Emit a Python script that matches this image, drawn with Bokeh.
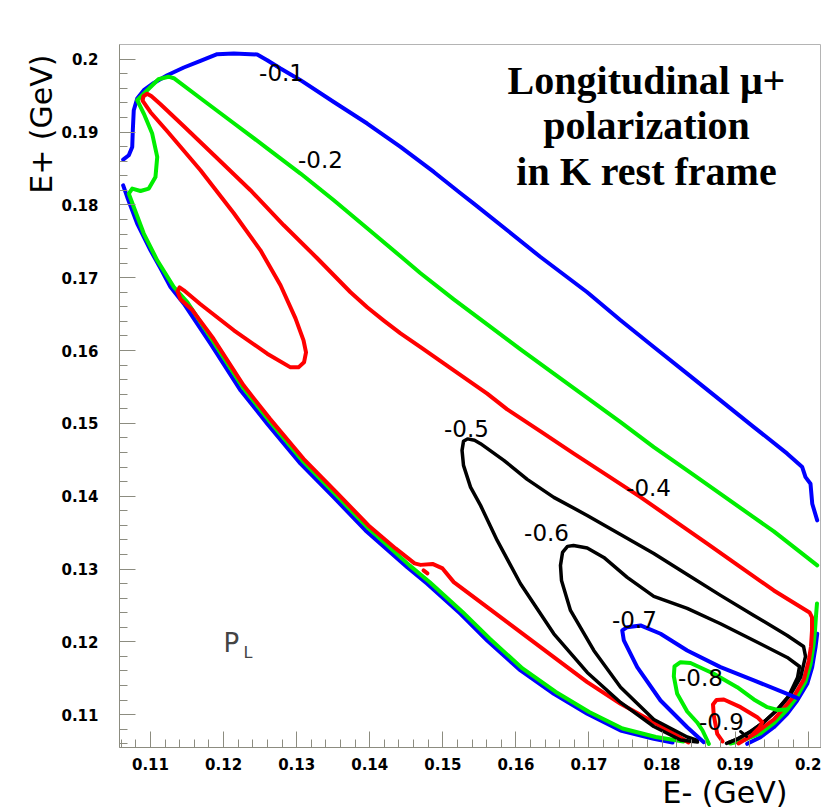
from bokeh.plotting import figure
from bokeh.models import Range1d, FixedTicker, Label, ColumnDataSource, Title
from bokeh.embed import file_html
from bokeh.resources import INLINE
from bokeh.core.properties import value

# ---------------- data (E- , E+ in GeV) ----------------
# P_L = -0.1 (blue): upper arc
m01_up_x = [0.10626, 0.10703, 0.10750, 0.10758, 0.10771, 0.10818, 0.10908, 0.11045, 0.11229, 0.11456,
            0.11684, 0.11913, 0.12140, 0.12460, 0.12597, 0.12779, 0.13053, 0.13508, 0.13965, 0.14421,
            0.14877, 0.15242, 0.15424, 0.15881, 0.16337, 0.16976, 0.17432, 0.17887, 0.18344, 0.18800,
            0.19256, 0.19713, 0.19918, 0.19963, 0.20031, 0.20055, 0.20123]
m01_up_y = [0.18622, 0.18681, 0.18795, 0.19025, 0.19299, 0.19460, 0.19574, 0.19674, 0.19780, 0.19886,
            0.19977, 0.20069, 0.20078, 0.20065, 0.19986, 0.19872, 0.19712, 0.19413, 0.19117, 0.18795,
            0.18452, 0.18159, 0.18018, 0.17651, 0.17284, 0.16800, 0.16415, 0.16048, 0.15683, 0.15316,
            0.14949, 0.14584, 0.14400, 0.14262, 0.14172, 0.13897, 0.13668]
# P_L = -0.1 (blue): lower-left edge
m01_lo_x = [0.10626, 0.10681, 0.10818, 0.11000, 0.11137, 0.11274, 0.11456, 0.11821, 0.12232, 0.12597,
            0.13053, 0.13508, 0.13942, 0.14513, 0.14786, 0.15242, 0.15607, 0.16063, 0.16519, 0.16976,
            0.17432, 0.17887, 0.18143]
m01_lo_y = [0.18269, 0.18109, 0.17743, 0.17376, 0.17129, 0.16872, 0.16644, 0.16095, 0.15453, 0.14996,
            0.14446, 0.13984, 0.13530, 0.13026, 0.12798, 0.12386, 0.12019, 0.11607, 0.11287, 0.11012,
            0.10783, 0.10669, 0.10618]
# P_L = -0.1 (blue): lower-right edge
m01_rt_x = [0.19165, 0.19347, 0.19529, 0.19712, 0.19849, 0.19986, 0.20054, 0.20100, 0.20123]
m01_rt_y = [0.10600, 0.10691, 0.10828, 0.11012, 0.11195, 0.11424, 0.11653, 0.11927, 0.12111]

# P_L = -0.2 (green): main contour
m02_x = [0.20123, 0.19529, 0.19256, 0.18800, 0.18344, 0.17887, 0.17432, 0.16976, 0.16519, 0.16063,
         0.15607, 0.15150, 0.14695, 0.14421, 0.13965, 0.13508, 0.13053, 0.12597, 0.12140, 0.11684,
         0.11319, 0.11246, 0.11109, 0.10955, 0.10818, 0.10908, 0.11023, 0.11092, 0.11068, 0.10977,
         0.10863, 0.10750, 0.10703, 0.10771, 0.10908, 0.11092, 0.11319, 0.11506, 0.11862, 0.12273,
         0.12635, 0.13094, 0.13545, 0.13983, 0.14544, 0.14818, 0.15269, 0.15639, 0.16090, 0.16546,
         0.17003, 0.17459, 0.17915, 0.18294]
m02_y = [0.13050, 0.13517, 0.13709, 0.14032, 0.14354, 0.14675, 0.15018, 0.15350, 0.15683, 0.16017,
         0.16360, 0.16703, 0.17061, 0.17294, 0.17679, 0.18063, 0.18430, 0.18777, 0.19121, 0.19464,
         0.19739, 0.19760, 0.19725, 0.19574, 0.19437, 0.19254, 0.18979, 0.18658, 0.18383, 0.18224,
         0.18191, 0.18224, 0.18155, 0.17971, 0.17606, 0.17239, 0.16872, 0.16662, 0.16120, 0.15481,
         0.15021, 0.14471, 0.14011, 0.13558, 0.13050, 0.12823, 0.12411, 0.12047, 0.11635, 0.11312,
         0.11037, 0.10811, 0.10694, 0.10632]
# P_L = -0.2 (green): lower-right edge
m02_rt_x = [0.18937, 0.19142, 0.19347, 0.19525, 0.19703, 0.19840, 0.19963, 0.20031, 0.20072, 0.20093,
            0.20107, 0.20120]
m02_rt_y = [0.10605, 0.10660, 0.10742, 0.10879, 0.11058, 0.11236, 0.11456, 0.11690, 0.11951, 0.12157,
            0.12363, 0.12528]

# P_L = -0.4 (red): main contour
m04_x = [0.19046, 0.19293, 0.19529, 0.19803, 0.19940, 0.20008, 0.20038, 0.20052, 0.20052, 0.20018,
         0.19529, 0.19074, 0.18618, 0.18161, 0.17705, 0.17250, 0.16793, 0.16337, 0.15881, 0.15607,
         0.15150, 0.14695, 0.14421, 0.14188, 0.13965, 0.13737, 0.13281, 0.12824, 0.12368, 0.11913, 0.11456,
         0.11137, 0.11014, 0.10955, 0.10904, 0.10891, 0.11000, 0.11229, 0.11684, 0.12140, 0.12505,
         0.12779, 0.12984, 0.13094, 0.13128, 0.13101, 0.13025, 0.12916, 0.12597, 0.12140, 0.11684,
         0.11456, 0.11397, 0.11369, 0.11411, 0.11575, 0.11862, 0.12273, 0.12635, 0.13094, 0.13545,
         0.13983, 0.14353, 0.14613, 0.14695, 0.14859, 0.14996, 0.15150, 0.15607, 0.16063, 0.16519,
         0.16976, 0.17432, 0.17887, 0.18161, 0.18362]
m04_y = [0.10605, 0.10756, 0.10934, 0.11250, 0.11484, 0.11745, 0.11937, 0.12157, 0.12335, 0.12404,
         0.12706, 0.13026, 0.13348, 0.13668, 0.13988, 0.14286, 0.14584, 0.14890, 0.15192, 0.15408,
         0.15728, 0.16048, 0.16236, 0.16415, 0.16594, 0.16800, 0.17267, 0.17720, 0.18201, 0.18640, 0.19080,
         0.19382, 0.19492, 0.19526, 0.19492, 0.19430, 0.19272, 0.19011, 0.18475, 0.17885, 0.17376,
         0.16896, 0.16442, 0.16140, 0.15975, 0.15838, 0.15769, 0.15769, 0.15957, 0.16278, 0.16635,
         0.16827, 0.16868, 0.16813, 0.16703, 0.16552, 0.16161, 0.15522, 0.15062, 0.14513, 0.14052,
         0.13599, 0.13283, 0.13077, 0.13057, 0.13070, 0.13008, 0.12820, 0.12477, 0.12133, 0.11790,
         0.11447, 0.11150, 0.10897, 0.10738, 0.10618]
m04_bit_x = [0.14736, 0.14790]
m04_bit_y = [0.12981, 0.12940]

# P_L = -0.5 (black)
m05_x = [0.18485, 0.18253, 0.17887, 0.17432, 0.16976, 0.16519, 0.16063, 0.15744, 0.15516, 0.15379,
         0.15283, 0.15263, 0.15283, 0.15338, 0.15434, 0.15516, 0.15835, 0.16155, 0.16519, 0.16976,
         0.17432, 0.17887, 0.18344, 0.18800, 0.19256, 0.19713, 0.19936, 0.19963, 0.19895, 0.19758,
         0.19594, 0.19416, 0.19238, 0.19046, 0.18909]
m05_y = [0.10625, 0.10653, 0.10838, 0.11168, 0.11580, 0.12111, 0.12798, 0.13393, 0.13874, 0.14125,
         0.14423, 0.14629, 0.14753, 0.14787, 0.14767, 0.14721, 0.14492, 0.14231, 0.13984, 0.13736,
         0.13475, 0.13214, 0.12926, 0.12638, 0.12363, 0.12088, 0.11937, 0.11800, 0.11511, 0.11278,
         0.11085, 0.10921, 0.10783, 0.10673, 0.10618]

# P_L = -0.6 (black)
m06_x = [0.18485, 0.18344, 0.17887, 0.17432, 0.17066, 0.16747, 0.16624, 0.16610, 0.16638, 0.16706,
         0.16788, 0.16976, 0.17203, 0.17523, 0.17887, 0.18344, 0.18800, 0.19256, 0.19713, 0.19881,
         0.19854, 0.19730, 0.19566, 0.19388, 0.19210, 0.19019, 0.18882]
m06_y = [0.10646, 0.10694, 0.10934, 0.11378, 0.11882, 0.12431, 0.12843, 0.13050, 0.13228, 0.13311,
         0.13324, 0.13290, 0.13159, 0.12885, 0.12624, 0.12459, 0.12249, 0.12019, 0.11786, 0.11662,
         0.11511, 0.11250, 0.11058, 0.10893, 0.10769, 0.10660, 0.10605]

# P_L = -0.7 (blue)
m07_x = [0.18571, 0.18344, 0.17979, 0.17660, 0.17477, 0.17455, 0.17523, 0.17705, 0.17979, 0.18344,
         0.18800, 0.19256, 0.19713, 0.19853]
m07_y = [0.10622, 0.10828, 0.11195, 0.11653, 0.12019, 0.12157, 0.12202, 0.12225, 0.12111, 0.11882,
         0.11653, 0.11470, 0.11287, 0.11227]

# P_L = -0.8 (green)
m08_x = [0.18640, 0.18554, 0.18481, 0.18344, 0.18207, 0.18161, 0.18170, 0.18253, 0.18389, 0.18708,
         0.19028, 0.19256, 0.19439, 0.19580, 0.19717]
m08_y = [0.10600, 0.10783, 0.10893, 0.11044, 0.11287, 0.11525, 0.11662, 0.11721, 0.11710, 0.11562,
         0.11378, 0.11209, 0.11103, 0.11065, 0.11072]

# P_L = -0.9 (red)
m09_x = [0.18827, 0.18755, 0.18708, 0.18697, 0.18745, 0.18845, 0.19074, 0.19302, 0.19371, 0.19334,
         0.19252]
m09_y = [0.10632, 0.10738, 0.10989, 0.11140, 0.11202, 0.11209, 0.11103, 0.10966, 0.10897, 0.10824,
         0.10742]
m10_bit_x = [0.19074, 0.19156]
m10_bit_y = [0.10769, 0.10701]

# contour labels
lab_text = ["-0.1", "-0.2", "-0.4", "-0.5", "-0.6", "-0.7", "-0.8", "-0.9"]
lab_x = [0.12793, 0.13326, 0.17815, 0.15324, 0.16419, 0.17623, 0.18526, 0.18813]
lab_y = [0.19821, 0.18626, 0.14121, 0.14931, 0.13503, 0.12308, 0.11511, 0.10907]

# axis ticks
x_ticks = [0.11, 0.12, 0.13, 0.14, 0.15, 0.16, 0.17, 0.18, 0.19, 0.2]
x_tick_labels = ["0.11", "0.12", "0.13", "0.14", "0.15", "0.16", "0.17", "0.18", "0.19", "0.2"]
y_ticks = [0.11, 0.12, 0.13, 0.14, 0.15, 0.16, 0.17, 0.18, 0.19, 0.2]
y_tick_labels = ["0.11", "0.12", "0.13", "0.14", "0.15", "0.16", "0.17", "0.18", "0.19", "0.2"]

title_lines = ["Longitudinal \u03bc+", "polarization", "in K rest frame"]

# ---------------- figure ----------------
BLUE, GREEN, RED, BLACK = "#0000ff", "#00ee00", "#ff0000", "#000000"

p = figure(width=821, height=810, output_backend="svg", toolbar_location=None,
           x_range=Range1d(0.105758, 0.201817), y_range=Range1d(0.105495, 0.20202),
           min_border_left=119, min_border_right=0, min_border_top=44, min_border_bottom=63)
p.background_fill_color = "white"
p.border_fill_color = "white"
p.outline_line_color = "#b4b4b4"
p.grid.visible = False

minor = [round(0.106 + 0.002 * i, 3) for i in range(48)]
for ax, ticks, labels in ((p.xaxis[0], x_ticks, x_tick_labels), (p.yaxis[0], y_ticks, y_tick_labels)):
    ax.ticker = FixedTicker(ticks=ticks, minor_ticks=minor)
    ax.major_label_overrides = dict(zip(ticks, labels))
    ax.major_tick_in = 16
    ax.major_tick_out = 0
    ax.minor_tick_in = 8
    ax.minor_tick_out = 0
    ax.axis_line_color = "#8c8c80"
    ax.major_tick_line_color = "#8c8c80"
    ax.minor_tick_line_color = "#8c8c80"
    ax.major_label_text_font = "DejaVu Sans"
    ax.major_label_text_font_style = "bold"
    ax.major_label_text_font_size = "15px"
    ax.major_label_text_color = "black"
p.xaxis[0].major_label_standoff = 10
p.yaxis[0].major_label_standoff = 21

# axis titles, placed at the far end of each axis
p.add_layout(Title(text="E- (GeV)", align="right", offset=34, standoff=0,
                   text_font="DejaVu Sans", text_font_style="normal", text_font_size="30px",
                   text_color="black"), "below")
p.add_layout(Title(text="E+ (GeV)", align="right", offset=10, standoff=0,
                   text_font="DejaVu Sans", text_font_style="normal", text_font_size="30px",
                   text_color="black"), "left")

def draw(xs, ys, color, w=4):
    p.line(xs, ys, line_color=color, line_width=w, line_join="round", line_cap="round")

draw(m01_up_x, m01_up_y, BLUE)
draw(m01_lo_x, m01_lo_y, BLUE)
draw(m01_rt_x, m01_rt_y, BLUE)
draw(m02_x, m02_y, GREEN)
draw(m02_rt_x, m02_rt_y, GREEN)
draw(m04_x, m04_y, RED)
draw(m04_bit_x, m04_bit_y, RED)
draw(m05_x, m05_y, BLACK, 3.5)
draw(m06_x, m06_y, BLACK, 3.5)
draw(m07_x, m07_y, BLUE)
draw(m08_x, m08_y, GREEN)
draw(m09_x, m09_y, RED)
draw(m10_bit_x, m10_bit_y, BLACK, 3)

src = ColumnDataSource(dict(x=lab_x, y=lab_y, t=lab_text))
p.text(x="x", y="y", text="t", source=src, text_font=value("DejaVu Sans"),
       text_font_size="23px", text_align="center", text_baseline="middle", text_color="black")

# title block
for txt, yy in zip(title_lines, [0.19702, 0.19093, 0.18452]):
    p.add_layout(Label(x=0.17787, y=yy, text=txt, text_font="Liberation Serif", text_font_style="bold",
                       text_font_size="40px", text_align="center", text_baseline="alphabetic",
                       text_color="black"))

# P_L
p.add_layout(Label(x=0.11999, y=0.11978, text="P", text_font="DejaVu Sans", text_font_size="26px",
                   text_align="left", text_baseline="alphabetic"))
p.add_layout(Label(x=0.12273, y=0.11854, text="L", text_font="DejaVu Sans", text_font_size="16px",
                   text_align="left", text_baseline="alphabetic"))

open("out.html", "w").write(file_html(p, INLINE))
